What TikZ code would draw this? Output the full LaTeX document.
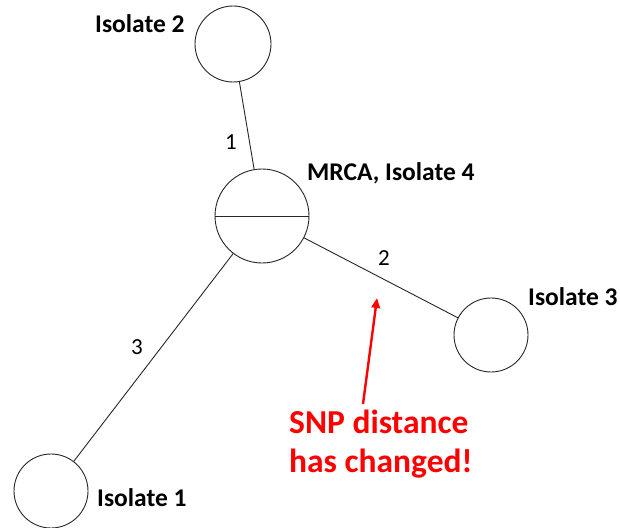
\documentclass[tikz,border=0pt]{standalone}
\usepackage{fontspec}
\setmainfont{Carlito}
\usetikzlibrary{arrows.meta}
\begin{document}
\begin{tikzpicture}[x=1pt,y=-1pt,
  iso/.style={circle,draw=black!85,line width=0.9pt,inner sep=0pt,fill=white},
  edge/.style={draw=black!85,line width=0.9pt},
  lbl/.style={font=\bfseries\fontsize{25.5}{29}\selectfont,inner sep=0pt,anchor=base west},
  num/.style={font=\fontsize{23}{26}\selectfont,inner sep=0pt,anchor=base},
  note/.style={font=\bfseries\fontsize{33.5}{39}\selectfont,text=red,align=left,inner sep=0pt,anchor=base west},
  redarrow/.style={draw=red,line width=2.4pt,-{Triangle[length=10pt,width=8.5pt]}}]
\useasboundingbox (0,0) rectangle (620,527);
% edges
\path[edge] (233,44) coordinate (c2) -- (262,216) coordinate (cm);
\path[edge] (262,216) -- (491,335) coordinate (c3);
\path[edge] (262,216) -- (51,491) coordinate (c1);
% circles
\node[iso,minimum size=76pt] (iso2) at (c2) {};
\node[iso,minimum size=94pt] (mrca) at (cm) {};
\node[iso,minimum size=74pt] (iso3) at (c3) {};
\node[iso,minimum size=74pt] (iso1) at (c1) {};
\draw[edge] (mrca.west) -- (mrca.east);
% labels
\node[lbl] (l2) at (95,33) {Isolate 2};
\node[lbl] (l4) at (307,180) {MRCA, Isolate 4};
\node[lbl] (l3) at (528,305) {Isolate 3};
\node[lbl] (l1) at (97,506) {Isolate 1};
\node[num] (n1) at (231,149) {1};
\node[num] (n2) at (384,265) {2};
\node[num] (n3) at (137,354) {3};
% note (base anchor = last line)
\node[note] (snp) at (289,472) {SNP distance\\has changed!};
\coordinate (atail) at (363,404);
\coordinate (atip) at (377,298);
\draw[redarrow] (atail) -- (atip);
\end{tikzpicture}
\end{document}
